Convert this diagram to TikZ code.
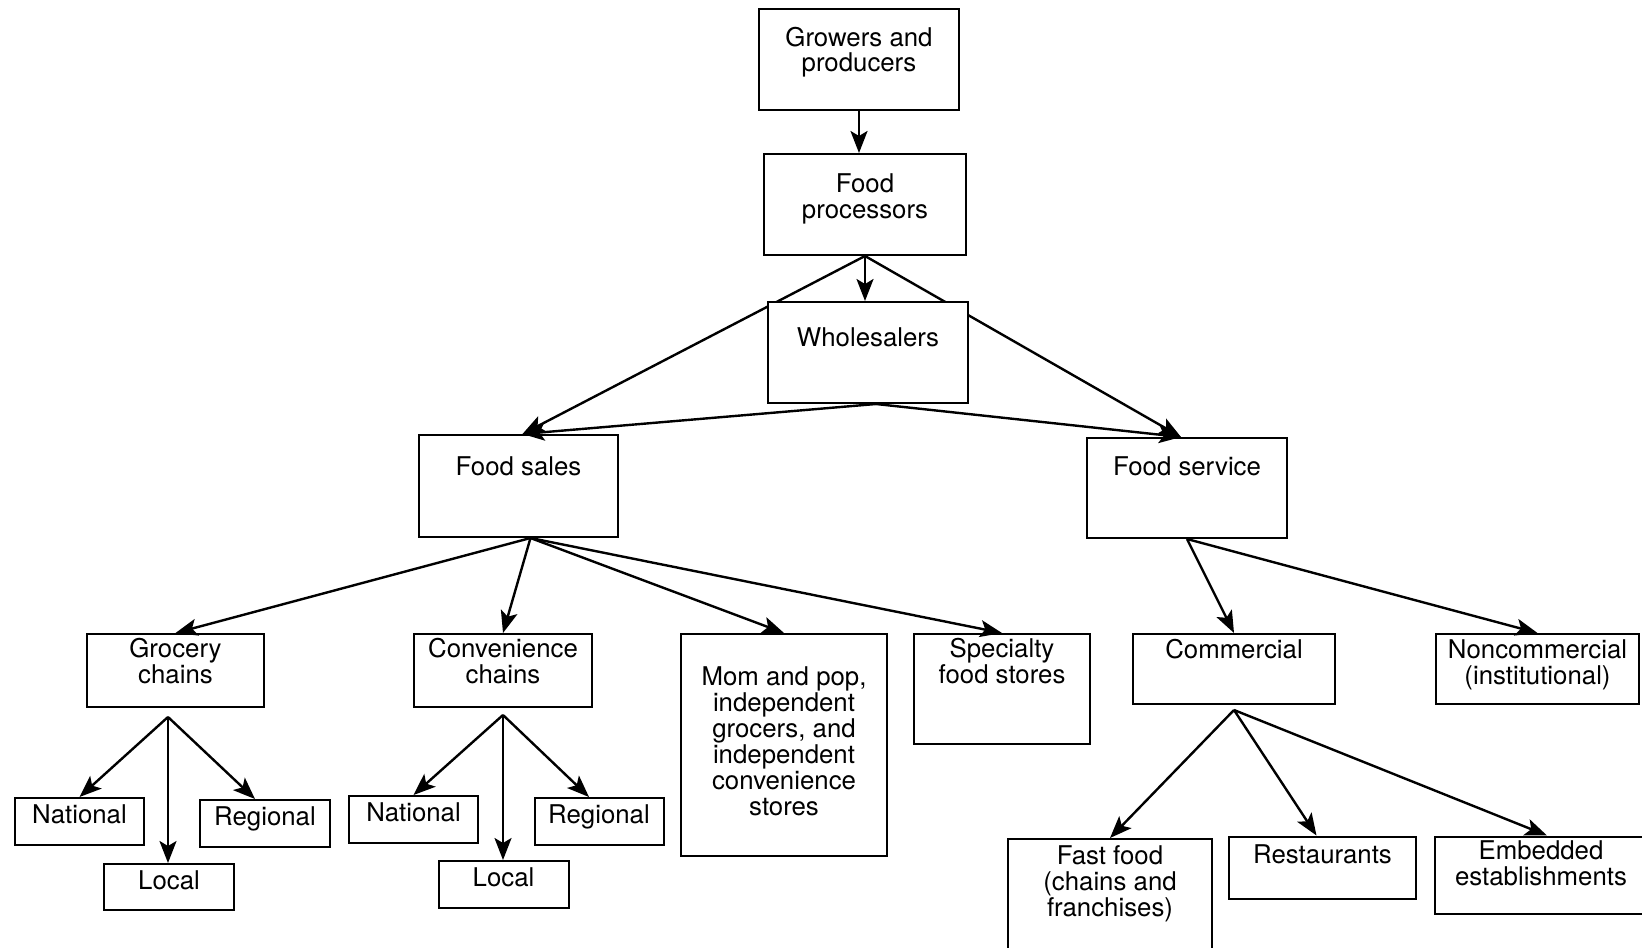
\documentclass[tikz,border=0pt]{standalone}
\usepackage{fontspec}
\setmainfont{TeX Gyre Heros}
\usetikzlibrary{arrows.meta,backgrounds}

\begin{document}
\begin{tikzpicture}[x=0.5pt, y=-0.5pt,
    box/.style={draw, line width=1pt, fill=white, inner sep=0pt, align=center,
        anchor=north west, font=\fontsize{12.9}{13}\selectfont},
    arr/.style={line width=1.2pt, -{Stealth[length=11pt, width=8.5pt, inset=2.5pt]}}]
    \useasboundingbox (0,0) rectangle (1642,947);
    \clip (0,0) rectangle (1642,947);

    % --- supply chain down to the two branches ---
    \node[box, minimum width=100pt, text height=31.5pt, text depth=19pt] (gp) at (758,8) {Growers and\\producers};
    \node[box, minimum width=101pt, text height=32pt, text depth=18.5pt] (fp) at (763,153) {Food\\processors};
    \node[box, minimum width=100pt, text height=22pt, text depth=28.5pt] (ws) at (767,301) {Wholesalers};
    \node[box, minimum width=99.5pt, text height=20pt, text depth=31pt] (fs) at (418,434) {Food sales};
    \node[box, minimum width=100pt, text height=18.5pt, text depth=31.5pt] (fsv) at (1086,437) {Food service};

    % --- food sales outlets ---
    \node[box, minimum width=88.5pt, text height=24.75pt, text depth=11.75pt] (gc) at (86,633) {Grocery\\chains};
    \node[box, minimum width=89pt, text height=24.75pt, text depth=11.75pt] (cc) at (413,633) {Convenience\\chains};
    \node[box, minimum width=103pt, text height=90.5pt, text depth=20.5pt] (mp) at (680,633)
        {Mom and pop,\\independent\\grocers, and\\independent\\convenience\\stores};
    \node[box, minimum width=88pt, text height=24.75pt, text depth=30pt] (sp) at (913,633) {Specialty\\food stores};

    \node[box, minimum width=64.5pt, text height=12.75pt, text depth=10.5pt] (gn) at (14,797) {National};
    \node[box, minimum width=65pt, text height=12.5pt, text depth=10.5pt] (gl) at (103,863) {Local};
    \node[box, minimum width=65pt, text height=12.5pt, text depth=11pt] (gr) at (199,799) {Regional};
    \node[box, minimum width=64.5pt, text height=12.75pt, text depth=10.5pt] (cn) at (348,795) {National};
    \node[box, minimum width=65pt, text height=12.5pt, text depth=11pt] (cl) at (437.5,860) {Local};
    \node[box, minimum width=64.5pt, text height=12.5pt, text depth=11pt] (cr) at (533.5,797) {Regional};

    % --- food service outlets ---
    \node[box, minimum width=101pt, text height=12pt, text depth=23pt] (cm) at (1132,633) {Commercial};
    \node[box, minimum width=101.5pt, text height=25pt, text depth=10pt] (nc) at (1435,633) {Noncommercial\\(institutional)};
    \node[box, minimum width=102pt, text height=38.5pt, text depth=24pt] (ff) at (1007,838) {Fast food\\(chains and\\franchises)};
    \node[box, minimum width=93.5pt, text height=13.5pt, text depth=17.5pt] (rs) at (1228,835.5) {Restaurants};
    \node[box, minimum width=106pt, text height=24.25pt, text depth=14.25pt] (eb) at (1434,835.5) {Embedded\\establishments};

    % fork points just under the boxes
    \coordinate (gcfork) at ([xshift=-3.75pt, yshift=-4.5pt]gc.south);
    \coordinate (ccfork) at ([yshift=-3.5pt]cc.south);
    \coordinate (cmfork) at ([yshift=-2.5pt]cm.south);

    % processors bypass the wholesalers, so these run behind that box
    \begin{scope}[on background layer]
        \draw[arr] (fp.south) -- ([xshift=2pt]fs.north);
        \draw[arr] (fp.south) -- ([xshift=-3pt]fsv.north);
    \end{scope}

    \draw[arr] (gp.south) -- (gp.south |- fp.north);
    \draw[arr] (fp.south) -- (fp.south |- ws.north);
    \draw[arr] ([xshift=4pt]ws.south) -- ([xshift=2pt]fs.north);
    \draw[arr] ([xshift=4pt]ws.south) -- ([xshift=-3pt]fsv.north);

    \foreach \t in {gc,cc,mp,sp} \draw[arr] ([xshift=6pt]fs.south) -- (\t.north);
    \foreach \t in {cm,nc} \draw[arr] (fsv.south) -- (\t.north);

    \draw[arr] (gcfork) -- (gn.north);
    \draw[arr] (gcfork) -- (gcfork |- gl.north);
    \draw[arr] (gcfork) -- ([xshift=-5pt]gr.north);
    \draw[arr] (ccfork) -- (cn.north);
    \draw[arr] (ccfork) -- (ccfork |- cl.north);
    \draw[arr] (ccfork) -- ([xshift=-5pt]cr.north);

    \draw[arr] (cmfork) -- (ff.north);
    \draw[arr] (cmfork) -- ([xshift=-3pt]rs.north);
    \draw[arr] (cmfork) -- ([xshift=3pt]eb.north);
\end{tikzpicture}
\end{document}
